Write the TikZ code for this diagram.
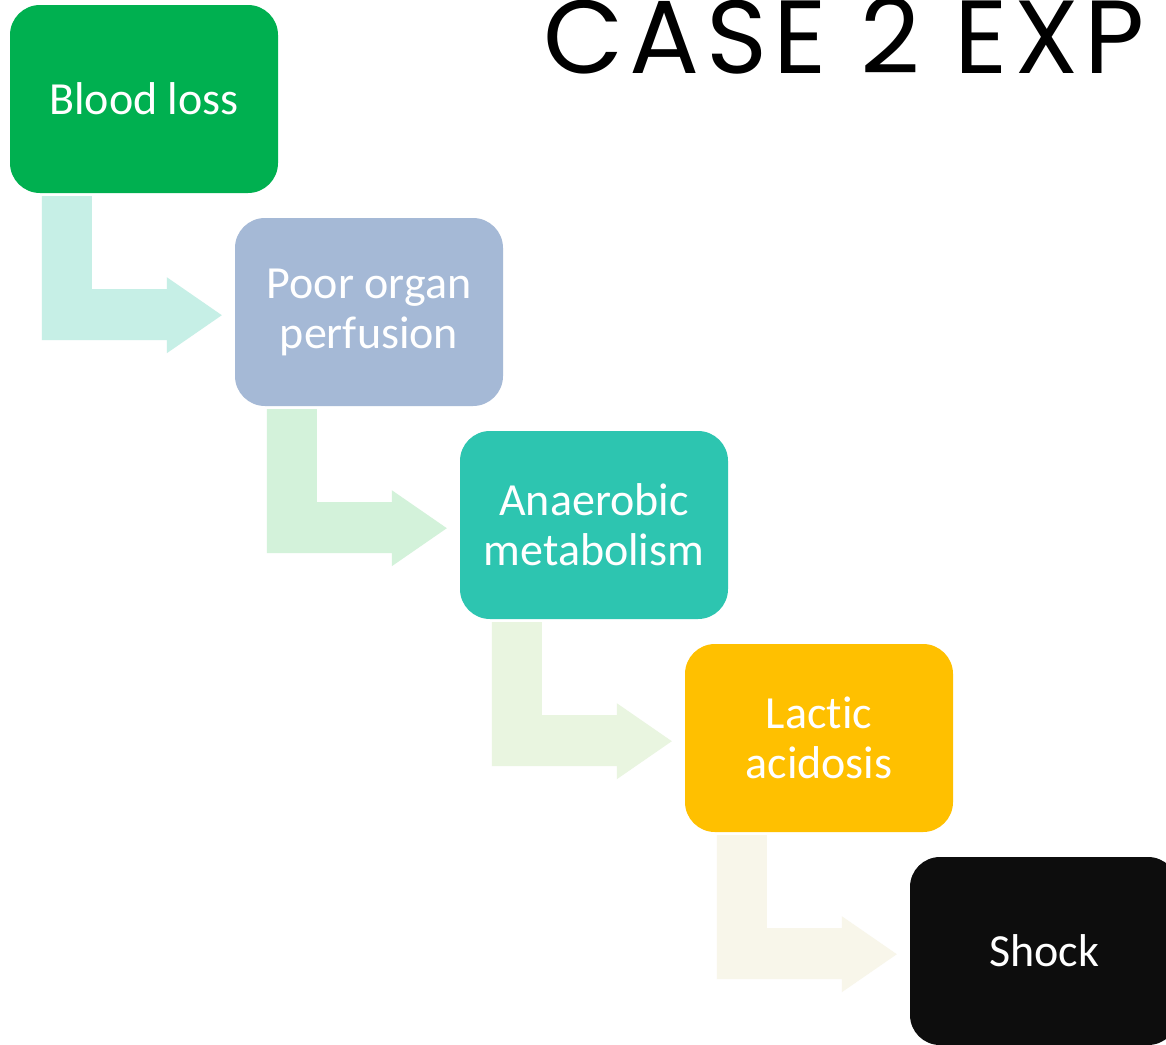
\documentclass[tikz,border=0pt]{standalone}
\usepackage{fontspec}
\setmainfont[Ligatures={NoCommon}]{Carlito}
\newfontfamily\titlefont[LetterSpace=6]{Poppins}
\usetikzlibrary{calc}
\definecolor{c1}{HTML}{00B050}
\definecolor{c2}{HTML}{A5B9D6}
\definecolor{c3}{HTML}{2DC5B0}
\definecolor{c4}{HTML}{FFC000}
\definecolor{c5}{HTML}{0D0D0D}
\definecolor{a1}{HTML}{C6EFE6}
\definecolor{a2}{HTML}{D3F2DA}
\definecolor{a3}{HTML}{E9F5E0}
\definecolor{a4}{HTML}{F8F6EA}
\tikzset{
  box/.style={rounded corners=30pt, minimum width=268pt, minimum height=188pt,
    inner sep=0pt, text=white, align=center,
    font=\fontsize{46}{50}\selectfont},
}
\newcommand{\elbow}[2]{%
  \fill[#2] ([shift={(32,3)}]#1.south west) -- ([shift={(82,3)}]#1.south west)
    -- ([shift={(82,96)}]#1.south west) -- ([shift={(157,96)}]#1.south west)
    -- ([shift={(157,84)}]#1.south west) -- ([shift={(212,122)}]#1.south west)
    -- ([shift={(157,160)}]#1.south west) -- ([shift={(157,147)}]#1.south west)
    -- ([shift={(32,147)}]#1.south west) -- cycle;}
\begin{document}
\begin{tikzpicture}[x=1pt,y=-1pt]
\useasboundingbox (0,0) rectangle (1166,1044);
\clip (0,0) rectangle (1166,1044);
\fill[white] (0,0) rectangle (1166,1044);
\node[box, fill=c1] (b1) at (144,99) {Blood loss};
\node[box, fill=c2] (b2) at (369,312) {Poor organ\\perfusion};
\node[box, fill=c3] (b3) at (594,525) {Anaerobic\\metabolism};
\node[box, fill=c4] (b4) at (819,738) {Lactic\\acidosis};
\node[box, fill=c5] (b5) at (1044,951) {Shock};
\elbow{b1}{a1}
\elbow{b2}{a2}
\elbow{b3}{a3}
\elbow{b4}{a4}
\node[anchor=base west, inner sep=0pt, font=\titlefont\fontsize{104}{104}\selectfont] (title) at (543,73) {CASE 2 EXP};
\end{tikzpicture}
\end{document}
